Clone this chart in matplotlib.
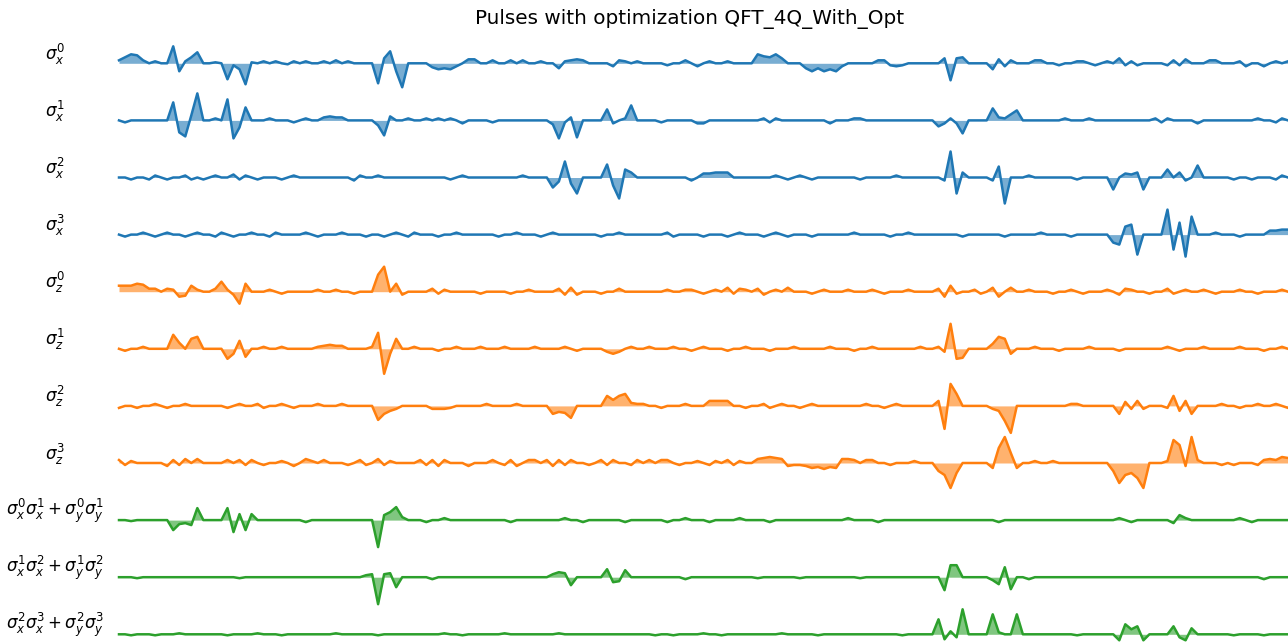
import matplotlib.pyplot as plt
import numpy as np

# pulse amplitude of each control, one value per time slot (195 slots)
sx0 = [3, 6, 9, 8, 3, 0, 2, 0, 0, 17, -8, 2, 6, 11, 0,
       0, 1, 0, -16, -2, -6, -21, 1, 0, 2, 0, 2, 0, -1, 2,
       0, 2, 0, 0, 2, 0, 3, 0, 2, 0, 0, 0, 0, -20, 5,
       12, -8, -24, 0, 0, 0, 0, -4, -6, -5, -6, -3, 0, 4, 4,
       0, 0, 3, 0, 0, 3, 0, 3, 0, 0, 2, 0, 0, -5, 2,
       3, 4, 3, 0, 0, 0, 0, -3, 3, 2, 0, 2, 0, 0, 0,
       0, -2, 0, 0, 3, 0, -3, 0, 2, 0, 0, 2, 0, 0, 0,
       0, 9, 7, 6, 9, 5, 0, 0, 0, -5, -8, -5, -8, -6, -8,
       -3, 0, 0, 0, 0, 0, 3, 3, -2, -3, -2, 0, 0, 0, 0,
       0, 0, 5, -17, 5, 6, 0, 0, 0, 0, -6, 4, -3, 3, 0,
       0, 0, 3, 3, 0, 0, -2, 0, 0, 2, 2, 0, -2, 0, 2,
       0, 5, -2, 2, -2, 0, 0, 0, 0, -2, 3, -2, 4, 0, 0,
       0, 3, 3, 0, 0, 0, 2, -3, 0, 0, -3, 0, 2, 0, 2]
sx1 = [0, -2, 0, 0, 0, 0, 0, 0, 0, 18, -12, -16, 5, 27, 0,
       0, 2, 0, 21, -18, -7, 13, 0, 0, 0, 2, 0, 0, 0, -2,
       0, 2, 0, 0, 3, 4, 3, 3, 0, 0, 0, 0, 0, -5, -15,
       4, 0, 0, 2, 0, 0, 2, 0, 2, 0, 2, 0, -3, 0, 0,
       0, 0, -2, 0, 0, 0, 0, 0, 0, 0, 0, 0, -4, -18, -2,
       3, -17, 0, 0, 0, 0, 11, -3, 0, 2, 15, 0, 0, 0, 0,
       -2, 0, 0, 0, 0, 0, -3, -3, 0, 0, 0, 0, 0, 0, 0,
       0, 0, 2, -2, 2, 0, 0, 0, 0, 0, 0, 0, 0, -3, 0,
       0, 0, 2, 2, 0, 0, 0, 0, 0, 0, 0, 0, 0, 0, 0,
       0, -6, -3, 2, -3, -13, 0, 0, 0, 0, 12, 3, 2, 6, 10,
       0, 0, 0, 0, 0, 0, 0, 2, 0, 0, 0, 2, 0, 0, 0,
       0, 0, 0, 0, 0, 0, 0, 2, -2, 2, 0, 0, 0, 0, -3,
       0, 0, 0, 0, 0, 0, 0, 0, 0, 2, 0, 0, -2, 2, 0]
sx2 = [0, 0, -2, 0, 0, -2, 2, 0, -2, 0, 0, 2, -2, 0, -2,
       0, 2, 0, 0, 3, -2, 2, 0, -2, 0, 0, 0, -2, 0, 2,
       0, 0, 0, 0, 0, 0, 0, 0, 0, -3, 2, 0, 0, 2, 0,
       0, 0, 0, 0, 0, 0, 0, 0, 0, 0, -2, 0, 2, 0, 0,
       0, 0, 0, 0, 0, 0, 0, 2, 0, 0, 0, 0, -10, -4, 16,
       -6, -16, 0, 0, 0, 0, 13, -8, -21, 8, 5, 0, 0, 0, 0,
       0, 0, 0, 0, 0, -3, 0, 4, 4, 5, 5, 5, 0, 0, 0,
       0, 0, 0, 0, 2, 0, -2, 0, 2, 0, -2, 0, 0, 0, 0,
       0, 0, 0, -2, 0, 0, 0, 0, 0, 2, 0, 0, 0, 0, 0,
       0, 0, -3, 26, -16, 5, 0, 0, 0, 0, -3, 11, -26, 0, 0,
       0, 2, 0, 0, 0, 0, 0, 0, 0, -2, 0, 0, 0, 0, 0,
       -12, 0, 4, 3, 5, -12, 0, 0, 0, 8, 0, 5, -3, 0, 12,
       0, 0, 0, 0, 0, -2, 0, 0, -2, 0, 0, 0, -2, 2, 0]
sx3 = [0, -2, 0, 0, 2, 0, -2, 0, 2, 0, 0, -2, 0, 2, 0,
       0, -2, 2, 0, -2, 0, 0, 2, 0, 0, -2, 2, 0, 0, 0,
       0, 2, 0, -2, 0, 0, 0, 2, 0, 0, 0, -2, 0, 0, -2,
       0, 2, 0, -2, 2, 0, 0, 0, -2, 0, 0, 2, 0, 0, 0,
       0, 0, 0, -2, 0, 0, 2, 0, 0, 0, -2, 0, 2, 0, 0,
       0, 0, 0, 0, 0, -2, 0, 0, 2, 0, 0, 0, 0, 0, 0,
       0, 2, -2, 0, 0, 0, 0, -2, 0, 0, 0, -2, 0, 2, 0,
       0, 0, -2, 0, 2, 0, -2, 0, 0, 0, -2, 0, 0, 0, 0,
       0, 0, 2, 0, 0, 0, 0, 0, -2, 0, 0, 2, 0, 0, 0,
       0, 0, 0, 0, 0, -2, 0, 0, 0, 0, 0, 0, -2, 0, 0,
       0, 0, 0, 2, 0, 0, 0, 0, -2, 0, 0, 0, 0, 0, 0,
       -8, -10, 8, 10, -20, 0, 0, 0, 0, 25, -15, 12, -22, 18, 0,
       0, 0, 2, 0, 0, 0, -2, 0, 0, 0, 0, 4, 4, 5, 5]
sz0 = [6, 6, 6, 8, 7, 3, 3, 0, 3, 2, -5, -4, 6, 2, 0,
       0, 3, 10, 2, -3, -12, 8, 0, 0, 0, 2, 0, -2, 0, 0,
       0, 0, 0, 2, 0, 0, 2, 0, 0, -2, 0, 0, 0, 17, 25,
       0, 8, -3, 0, 0, 0, 0, 3, -2, 2, 0, 0, 0, 0, 0,
       -2, 0, 0, 0, 0, -2, 0, 0, 2, 0, 0, 0, 0, 3, -3,
       4, -3, 0, 0, 0, -2, 0, 0, 3, 0, 0, 0, 0, 0, 0,
       0, 2, 0, 0, 2, 2, 0, -2, 0, 2, 0, 4, -2, 3, 2,
       0, 3, -3, 0, 2, 0, 4, 0, 0, 0, -2, 0, 2, 0, 0,
       0, 2, 0, 0, 0, 2, 0, -2, 0, 0, 0, 2, 0, 0, 0,
       0, 3, -5, 6, -2, 0, 0, 2, -2, 0, 4, -5, 0, 4, 0,
       0, 2, 0, 0, 0, -2, 0, 0, 2, 0, -2, 0, 0, 0, 2,
       0, -3, 3, 2, 0, 0, -2, 0, 0, 3, -2, 0, 2, 0, 0,
       2, 0, -2, 0, 0, 0, 2, 0, 0, -2, 0, 0, 0, 2, 0]
sz1 = [0, -2, 0, 0, 2, 0, 0, 0, 0, 14, 6, 0, 10, 12, 0,
       0, 0, 0, -10, -5, 8, -8, 0, 0, 2, 0, 0, 2, 0, 0,
       0, 0, 0, 2, 3, 4, 3, 3, 0, 0, 0, 0, 2, 16, -25,
       -5, 10, 0, 0, 2, 0, 0, 0, -2, 0, 0, 2, 0, 0, 0,
       2, 0, 0, 0, 2, 0, 0, 0, 0, 2, 0, 0, 0, 0, 2,
       0, -2, 0, 0, 0, 0, -3, -5, -3, 0, 2, 0, 0, 2, 0,
       0, 0, 2, 0, 0, -2, 0, 2, 0, 0, 0, -2, 0, 0, 2,
       0, 0, 0, -2, 0, 0, 0, 2, 0, 0, 0, 0, 0, 2, 0,
       0, 0, -2, 0, 0, 2, 0, 0, 0, 0, 0, 0, 0, 2, 0,
       0, 2, -3, 25, -10, -9, 0, 0, 0, 0, 5, 12, 10, -5, 0,
       0, 0, 2, 0, 0, 0, -2, 0, 0, 0, 0, 2, 0, 0, 0,
       0, -2, 0, 0, 0, 0, 0, 0, 0, 2, 0, -2, 0, 0, 0,
       2, 0, 0, 0, 0, 0, 2, 0, 0, 0, -2, 0, 0, 2, 0]
sz2 = [-2, 0, 0, -2, 0, 0, 2, 0, -2, 0, 0, 2, 0, 0, 0,
       0, 0, 0, -2, 0, 2, 0, 0, 2, -2, 0, 0, 2, 0, -2,
       0, 0, 0, 2, 0, 0, 0, 2, 0, 0, 0, 0, 0, -14, -8,
       -5, -3, 0, 0, 0, 0, 0, -3, -3, -3, -2, 0, 0, 0, 0,
       0, 2, 0, 0, 0, 0, 2, 0, 0, 0, 0, 0, -8, -6, -7,
       -12, 0, 0, 0, 0, 0, 10, 6, 10, 12, 3, 2, 2, 0, 0,
       -2, 0, 0, 0, 2, 0, 0, 0, 5, 5, 5, 5, 0, 0, -2,
       0, 0, 2, -2, 0, 2, 0, 0, -2, 0, 2, 0, 0, 0, 0,
       0, 0, 0, 0, 2, 0, 0, -2, 0, 2, 0, 0, 0, 0, 0,
       0, 5, -23, 22, 12, 0, 0, 0, 0, 0, -3, -5, -15, -27, 0,
       0, 0, 0, 0, 0, 0, 0, 0, 2, 2, 0, 0, 0, 0, 0,
       0, -8, 4, -3, 5, -3, 0, 0, 0, -2, 10, -5, 5, -8, 0,
       0, 0, 0, 2, 0, 0, -2, 0, 0, 2, 0, 0, 2, 0, -2]
sz3 = [3, -2, 2, 0, 0, 0, 0, 0, -3, 3, -2, 4, 0, 4, 0,
       0, 0, 0, 3, 0, 3, -2, 3, 0, -2, 0, 0, 2, 0, -3,
       0, 4, 2, 0, 3, 0, 0, 0, -2, 0, 3, -2, 0, 4, -2,
       2, 0, 0, 0, 0, 3, -2, 3, -3, 3, 0, 0, 0, -3, 0,
       0, 0, 3, 0, -2, 3, -3, 0, 3, 3, 0, 3, -3, 3, -2,
       3, 0, 0, -2, 0, 3, -2, 3, 0, 0, -2, 3, 0, 3, 0,
       3, 3, 0, -2, 0, 0, 2, 0, -2, 2, 0, 3, -2, 2, 0,
       0, 4, 5, 6, 5, 4, -3, -2, -2, -3, -5, -4, -6, -4, -5,
       4, 4, 3, 0, 3, 3, 0, 0, -2, 0, 0, 0, 2, 0, 0,
       0, -8, -12, -25, -10, 0, 0, 0, 0, 0, -5, 15, 26, 10, -5,
       0, 0, 2, 0, 0, 2, 0, 0, 0, 0, 0, 0, 0, 0, 0,
       -8, -20, -12, -10, -15, -25, 0, 0, 0, 2, 23, 18, -3, 26, 3,
       0, 0, 0, -2, 0, -2, 0, 0, 0, -2, 3, 4, 3, 6, 5]
xy01 = [0, 0, -1, 0, 0, 0, 0, 0, 0, -10, -4, -3, -5, 12, 0,
        0, 0, 0, 12, -12, 6, -10, 6, 0, 0, 0, 0, 0, 0, 0,
        0, -2, 0, 0, 0, 0, 0, 0, 0, 0, 0, 0, 0, -27, 5,
        8, 13, 3, 0, 0, 0, -2, 0, 0, 2, 0, 0, 0, 0, 0,
        0, 0, 0, 0, 0, -2, 0, 0, 0, 0, 0, 0, 0, 0, 2,
        0, 0, -2, 0, 0, 0, 0, 0, 0, -2, 0, 0, 0, 0, 0,
        0, -2, 0, 0, 2, 0, 0, 0, -2, 0, 0, 0, 0, 2, 0,
        0, 0, 0, -2, 0, 0, 0, 0, 0, 0, 0, 0, 0, 0, 0,
        0, 2, 0, 0, 0, 0, -2, 0, 0, 0, 0, 0, 0, 0, 0,
        0, 0, 0, 0, 0, 0, 0, 0, 0, 0, 0, -2, 0, 0, 0,
        0, 0, 0, 0, 0, 0, 0, 0, 0, 0, 0, 0, 0, 0, 0,
        0, 2, 0, -2, 0, 0, 0, 0, 0, 0, -3, 5, 2, 0, 0,
        0, 0, 0, 0, 0, 0, 2, 0, -2, 0, 0, 0, 0, 0, 0]
xy12 = [0, 0, 0, -1, 0, 0, 0, 0, 0, 0, 0, 0, 0, 0, 0,
        0, 0, 0, 0, 0, -1, 0, 0, 0, 0, 0, 0, 0, 0, 0,
        0, 0, 0, 0, 0, 0, 0, 0, 0, 0, 0, 2, 3, -27, 3,
        4, -10, 0, 0, 0, 0, 0, -2, 0, 0, 0, 0, 0, 0, 0,
        0, 0, 0, 0, 0, 0, 0, 0, 0, 0, 0, 0, 3, 5, 4,
        -8, 0, 0, 0, 0, 0, 8, -5, -4, 7, 0, 0, 0, 0, 0,
        0, 0, 0, 0, -2, 0, 0, 0, 0, 0, 0, 0, 0, 0, 0,
        0, -1, 0, 0, 0, 0, 0, 0, -1, 0, 0, 0, 0, 0, 0,
        0, 0, 0, -1, 0, 0, 0, 0, 0, 0, 0, 0, 0, 0, 0,
        0, 0, -13, 12, 12, 0, 0, 0, 0, 0, -3, -7, 10, -12, 0,
        0, -2, 0, 0, 0, 0, 0, 0, 0, 0, 0, 0, 0, 0, 0,
        0, 0, 0, 0, 0, 0, 0, 0, 0, 0, 0, 0, 0, 0, 0,
        0, 0, 0, 0, 0, 0, 0, 0, 0, 0, -2, 0, 0, 0, 0]
xy23 = [0, 0, -1, 0, 0, 0, -1, 0, 0, 0, 1, 0, 0, 0, 0,
        0, 0, 0, -1, 0, 0, 0, 0, 1, 0, 0, 0, -1, 0, 0,
        0, 0, 0, 0, 0, 0, 1, 0, 0, 0, 0, 0, 0, -1, 0,
        0, 0, 0, 0, 0, 0, 0, 0, 0, 1, 0, 0, -1, 0, 0,
        0, 0, 0, 0, 1, 0, 0, 0, 0, 0, 0, 0, 0, 1, 0,
        0, 0, 0, 0, 0, 0, 0, 0, 0, 0, 0, 0, 0, 0, -1,
        0, 0, -1, 0, 0, 0, 0, 1, 0, 0, -1, 0, 0, 0, 0,
        0, 0, 0, 0, 0, 1, 0, 0, 0, 0, 0, -1, 0, 0, 0,
        0, 0, 0, 0, 0, 0, 0, 0, 0, 0, -1, 0, 0, 0, 0,
        0, 15, -5, 3, -3, 25, 0, 0, 0, 0, 20, 2, 0, 0, 20,
        0, 0, 0, 0, 0, 0, 0, 0, 0, -1, 0, 0, 0, 0, 0,
        0, -6, 10, 5, 8, -6, 0, 0, 0, 0, 8, -3, -6, 6, 0,
        0, 0, 0, 0, 0, -1, 0, 0, 0, 0, -1, 0, 0, 0, 0]

labels = [r'$\sigma_x^0$', r'$\sigma_x^1$', r'$\sigma_x^2$', r'$\sigma_x^3$',
          r'$\sigma_z^0$', r'$\sigma_z^1$', r'$\sigma_z^2$', r'$\sigma_z^3$',
          r'$\sigma_x^0\sigma_x^1 + \sigma_y^0\sigma_y^1$',
          r'$\sigma_x^1\sigma_x^2 + \sigma_y^1\sigma_y^2$',
          r'$\sigma_x^2\sigma_x^3 + \sigma_y^2\sigma_y^3$']
pulses = [sx0, sx1, sx2, sx3, sz0, sz1, sz2, sz3, xy01, xy12, xy23]
colors = ['C0'] * 4 + ['C1'] * 4 + ['C2'] * 3
title = 'Pulses with optimization QFT_4Q_With_Opt'

W, H = 1288, 642
fig = plt.figure(figsize=(W / 100, H / 100), dpi=100)

left = 119
row0 = 63.3     # baseline of first row, px from top
pitch = 57.1    # distance between rows, px
half = pitch / 2

for i, (amp, lab, col) in enumerate(zip(pulses, labels, colors)):
    base = row0 + pitch * i
    ax = fig.add_axes([left / W, 1 - (base + half) / H, (W - left) / W, pitch / H])
    t = np.arange(len(amp))
    amp = np.array(amp, dtype=float)
    ax.fill_between(t, 0, amp, color=col, alpha=0.6, lw=0, clip_on=False)
    ax.plot(t, amp, color=col, lw=1.8, clip_on=False)
    ax.set_xlim(0, len(amp) - 1)
    ax.set_ylim(-half, half)
    ax.axis('off')
    fig.text(55 / W, 1 - (base - 9) / H, lab, ha='center', va='center', fontsize=12)

fig.text(690 / W, 1 - 19 / H, title, ha='center', va='center', fontsize=14.4)

fig.savefig('out.png', dpi=100)
